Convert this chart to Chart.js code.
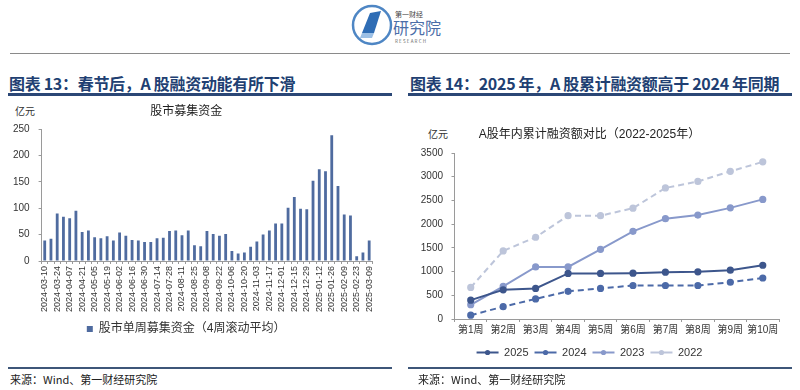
<!DOCTYPE html>
<html>
<head>
<meta charset="utf-8">
<script src="https://cdn.jsdelivr.net/npm/chart.js@4.4.1/dist/chart.umd.min.js"></script>
<style>
  html, body { margin: 0; padding: 0; background: #fff; }
  body { width: 800px; height: 390px; position: relative; overflow: hidden;
         font-family: 'Noto Sans CJK SC', 'Liberation Sans', sans-serif; }
  .abs { position: absolute; }
  .head-line { left: 10px; width: 780px; top: 53px; height: 1px; background: #8a8a8a; }
  .fig-title { top: 71px; font-size: 16px; font-weight: bold; color: #213f72; white-space: nowrap; letter-spacing: -0.3px; }
  .fig-rule { top: 93px; height: 3px; background: #2b4776; }
  .foot-rule { top: 367px; height: 2px; background: #3d5679; }
  .source { top: 371px; font-size: 11px; color: #222; white-space: nowrap; }
  .unit { font-size: 10px; color: #333; }
</style>
</head>
<body>
<svg class="abs" style="left:350px;top:3px" width="100" height="46">
  <circle cx="22" cy="22" r="19" fill="none" stroke="#4e86c4" stroke-width="2.5"/>
  <path d="M12 30 L20 10 L31 8 L24 30 Z" fill="#2f6db5"/>
  <path d="M12 30 L24 30 L22 35 L10 35 Z" fill="#9cc0e6"/>
  <text x="45" y="14" font-size="7" fill="#444">第一财经</text>
  <text x="43" y="31" font-size="16" fill="#4b6ea8">研究院</text>
  <text x="45" y="40" font-size="4.5" fill="#666" letter-spacing="1.2">RESEARCH</text>
</svg>
<div class="abs head-line"></div>

<div class="abs fig-title" style="left:9px">图表 13：春节后，A 股融资动能有所下滑</div>
<div class="abs fig-rule" style="left:8px;width:384px"></div>
<div class="abs fig-title" style="left:410px">图表 14：2025 年，A 股累计融资额高于 2024 年同期</div>
<div class="abs fig-rule" style="left:408px;width:384px"></div>

<div class="abs unit" style="left:15px;top:103px">亿元</div>
<div class="abs unit" style="left:428px;top:126px">亿元</div>

<canvas id="left-chart" class="abs" style="left:0;top:100px" width="395" height="245"></canvas>
<canvas id="right-chart" class="abs" style="left:400px;top:115px" width="400" height="253"></canvas>

<div class="abs foot-rule" style="left:8px;width:384px"></div>
<div class="abs foot-rule" style="left:408px;width:384px"></div>
<div class="abs source" style="left:10px">来源：Wind、第一财经研究院</div>
<div class="abs source" style="left:418px">来源：Wind、第一财经研究院</div>

<script>
const weekDates = [
  '2024-03-10', '2024-03-17', '2024-03-24', '2024-03-31', '2024-04-07', '2024-04-14', '2024-04-21', '2024-04-28',
  '2024-05-05', '2024-05-12', '2024-05-19', '2024-05-26', '2024-06-02', '2024-06-09', '2024-06-16', '2024-06-23',
  '2024-06-30', '2024-07-07', '2024-07-14', '2024-07-21', '2024-07-28', '2024-08-04', '2024-08-11', '2024-08-18',
  '2024-08-25', '2024-09-01', '2024-09-08', '2024-09-15', '2024-09-22', '2024-09-29', '2024-10-06', '2024-10-13',
  '2024-10-20', '2024-10-27', '2024-11-03', '2024-11-10', '2024-11-17', '2024-11-24', '2024-12-01', '2024-12-08',
  '2024-12-15', '2024-12-22', '2024-12-29', '2025-01-05', '2025-01-12', '2025-01-19', '2025-01-26', '2025-02-02',
  '2025-02-09', '2025-02-16', '2025-02-23', '2025-03-02', '2025-03-09'
];
const weeklyFunds = [
  39, 42, 90, 84, 81, 95, 55, 58, 45, 43, 47, 39, 54, 48, 40, 39,
  36, 36, 43, 44, 57, 58, 49, 58, 30, 28, 57, 51, 48, 51, 19, 14,
  16, 27, 37, 50, 58, 71, 71, 101, 121, 99, 98, 152, 174, 170, 238, 142,
  88, 86, 9, 16, 39
];

const weekNames = ['第1周', '第2周', '第3周', '第4周', '第5周', '第6周', '第7周', '第8周', '第9周', '第10周'];
const cum2025 = [397, 615, 644, 961, 961, 967, 988, 995, 1030, 1133];
const cum2024 = [80, 259, 424, 583, 644, 706, 706, 706, 775, 864];
const cum2023 = [300, 690, 1099, 1099, 1470, 1848, 2116, 2192, 2343, 2522];
const cum2022 = [665, 1436, 1724, 2178, 2178, 2336, 2763, 2900, 3114, 3313];

Chart.defaults.font.family = "'Liberation Sans', 'Noto Sans CJK SC', sans-serif";
Chart.defaults.color = '#333';
Chart.defaults.animation = false;

const axisGray = '#9a9a9a';

new Chart(document.getElementById('left-chart'), {
  type: 'bar',
  data: {
    labels: weekDates,
    datasets: [{
      label: '股市单周募集资金（4周滚动平均）',
      data: weeklyFunds,
      backgroundColor: '#4f6b9f',
      barPercentage: 0.45,
      categoryPercentage: 1,
    }],
  },
  options: {
    responsive: false,
    layout: { padding: { right: 22.7, left: 0 } },
    plugins: {
      title: {
        display: true,
        text: '股市募集资金',
        font: { size: 12, weight: 'normal' },
        color: '#222',
        padding: { top: 4, bottom: 10.6 },
      },
      legend: {
        position: 'bottom',
        labels: { boxWidth: 6, boxHeight: 6, padding: 8, font: { size: 12 }, color: '#333' },
      },
      tooltip: { enabled: false },
    },
    scales: {
      x: {
        afterFit: s => { s.height = 54; },
        grid: { display: true, drawOnChartArea: false, tickLength: 3, color: axisGray },
        border: { color: axisGray },
        ticks: {
          autoSkip: false, minRotation: 90, maxRotation: 90, padding: 2,
          font: { size: 9 }, color: '#333',
          callback: function (v, i) { return i % 2 === 0 ? this.getLabelForValue(v) : ''; },
        },
      },
      y: {
        min: 0, max: 250,
        afterFit: s => { s.width = 41.6; },
        grid: { display: true, drawOnChartArea: false, tickLength: 3, color: axisGray },
        border: { color: axisGray },
        ticks: { stepSize: 50, padding: 9, font: { size: 10 }, color: '#333' },
      },
    },
  },
});

// dot in the middle of each legend line, like the original legend
const legendDots = {
  id: 'legendDots',
  afterDraw(chart) {
    const lg = chart.legend;
    if (!lg || !lg.legendHitBoxes) return;
    const ctx = chart.ctx;
    lg.legendHitBoxes.forEach((hb, i) => {
      const ds = chart.data.datasets[i];
      ctx.save();
      ctx.fillStyle = ds.borderColor;
      ctx.beginPath();
      ctx.arc(hb.left + 11, hb.top + 5.5, 2.6, 0, Math.PI * 2);
      ctx.fill();
      ctx.restore();
    });
  },
};

function lineSet(label, data, color, dashed) {
  return {
    label: label,
    data: data,
    borderColor: color,
    backgroundColor: color,
    pointBackgroundColor: color,
    pointBorderColor: color,
    borderWidth: 2,
    borderDash: dashed ? [6, 4] : [],
    pointRadius: 2.6,
    pointStyle: 'circle',
    tension: 0,
  };
}

const rightSets = [
  lineSet('2025', cum2025, '#3d568c', false),
  lineSet('2024', cum2024, '#4c6aa8', true),
  lineSet('2023', cum2023, '#8899cb', false),
  lineSet('2022', cum2022, '#bdc5da', true),
];

new Chart(document.getElementById('right-chart'), {
  type: 'line',
  data: { labels: weekNames, datasets: rightSets },
  options: {
    responsive: false,
    layout: { padding: { right: 21, left: 0 } },
    plugins: {
      title: {
        display: true,
        text: 'A股年内累计融资额对比（2022-2025年）',
        font: { size: 12, weight: 'normal' },
        color: '#222',
        padding: { top: 12.3, bottom: 11.3 },
      },
      legend: {
        position: 'bottom',
        labels: {
          usePointStyle: true,
          pointStyleWidth: 22,
          padding: 6,
          font: { size: 11 },
          color: '#333',
          generateLabels: chart => Chart.defaults.plugins.legend.labels.generateLabels(chart)
            .map(l => Object.assign(l, { pointStyle: 'line' })),
        },
      },
      tooltip: { enabled: false },
    },
    scales: {
      x: {
        offset: true,
        afterFit: s => { s.height = 22; },
        grid: { display: true, drawOnChartArea: false, tickLength: 3, color: axisGray, offset: true },
        border: { color: axisGray },
        ticks: { autoSkip: false, padding: 2, font: { size: 10 }, color: '#333', maxRotation: 0 },
      },
      y: {
        min: 0, max: 3500,
        afterFit: s => { s.width = 54.5; },
        grid: { display: true, drawOnChartArea: false, tickLength: 3, color: axisGray },
        border: { color: axisGray },
        ticks: { stepSize: 500, padding: 8.5, font: { size: 10 }, color: '#333', callback: v => String(v) },
      },
    },
  },
  plugins: [legendDots],
});
</script>
</body>
</html>
